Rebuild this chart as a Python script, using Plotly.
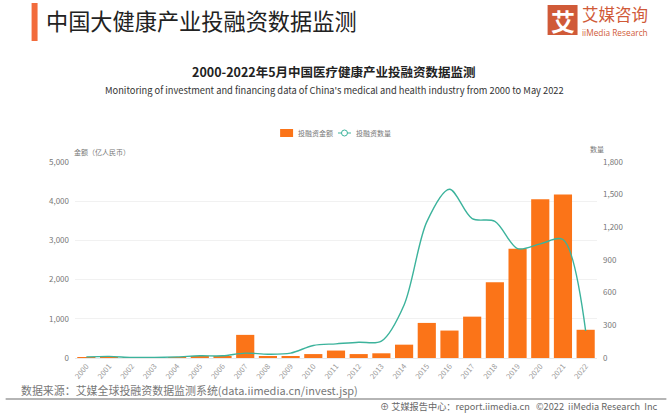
import plotly.graph_objects as go

years = [str(y) for y in range(2000, 2023)]
amount = [20, 15, 12, 8, 15, 40, 45, 590, 35, 30, 100, 190, 100, 120, 340, 895, 700, 1055, 1930, 2790, 4050, 4170, 720]
count = [10, 15, 5, 5, 10, 20, 20, 45, 35, 45, 115, 130, 145, 155, 487, 1250, 1550, 1280, 1255, 1005, 1048, 1088, 248]
left_ticks = [0, 1000, 2000, 3000, 4000, 5000]
right_ticks = [0, 300, 600, 900, 1200, 1500, 1800]

W, H = 667, 415
L, R, T, B = 74.5, 597.5, 162, 358
CJK = "Noto Sans CJK SC"
ORANGE = "#FB7418"
TEAL = "#3CB39C"
GRAY = "#777777"


def px(x):
    return (x - L) / (R - L)


def py(y):
    return (B - y) / (B - T)


def note(text, x, y, size, color="#333333", anchor="left", bold=False, family=CJK):
    return dict(text=f"<b>{text}</b>" if bold else text, x=px(x), y=py(y), xref="paper", yref="paper",
                xanchor=anchor, yanchor="middle", showarrow=False,
                font=dict(family=family, size=size, color=color))


def box(x0, y0, x1, y1, color, kind="rect", width=0):
    return dict(type=kind, xref="paper", yref="paper", x0=px(x0), x1=px(x1), y0=py(y0), y1=py(y1),
                fillcolor=color, line=dict(width=width, color=color), layer="below")


fig = go.Figure()
fig.add_bar(x=years, y=amount, name="投融资金额", marker=dict(color=ORANGE, line=dict(width=0)), yaxis="y")
fig.add_scatter(x=years, y=count, mode="lines", name="投融资数量", yaxis="y2",
                line=dict(color=TEAL, width=1.4, shape="spline", smoothing=0.9))

fig.update_layout(
    width=W, height=H, autosize=False,
    margin=dict(l=L, r=W - R, t=T, b=H - B, autoexpand=False),
    paper_bgcolor="white", plot_bgcolor="white",
    bargap=0.2,
    showlegend=False,
    xaxis=dict(type="category", tickangle=-50, tickfont=dict(family=CJK, size=7.5, color="#999999"),
               showgrid=False, showline=True, linecolor="#E8E8E8", ticks="", ticklen=0),
    yaxis=dict(range=[0, 5000], tickvals=left_ticks, tickformat=",", ticklabelstandoff=5,
               tickfont=dict(family=CJK, size=8, color=GRAY),
               gridcolor="#F1F1F1", gridwidth=1, zeroline=False, ticks="", showline=False),
    yaxis2=dict(range=[0, 1800], tickvals=right_ticks, tickformat=",", overlaying="y", side="right",
                ticklabelstandoff=5,
                tickfont=dict(family=CJK, size=8, color=GRAY), showgrid=False, zeroline=False,
                ticks="", showline=False),
    shapes=[
        box(31, 3, 37, 41, "#F26B3C"),
        box(549, 6, 577, 34, "#D05A38", width=2),
        box(5, 398, W, 400, "#B5B5B5"),
        box(280, 129, 293, 137, ORANGE),
        dict(type="line", xref="paper", yref="paper", x0=px(338), x1=px(351), y0=py(133), y1=py(133),
             line=dict(color=TEAL, width=1)),
        dict(type="circle", xref="paper", yref="paper", x0=px(341.5), x1=px(347.5), y0=py(130), y1=py(136),
             fillcolor="white", line=dict(color=TEAL, width=1)),
    ],
    annotations=[
        note("中国大健康产业投融资数据监测", 43, 20, 22.2, "#222222"),
        note("艾", 563, 20, 24, "white", "center", True),
        note("艾媒咨询", 580, 14, 16.5, "#D05A38"),
        note("iiMedia Research", 580, 32, 8.3, "#D05A38", family="Open Sans"),
        note("2000-2022年5月中国医疗健康产业投融资数据监测", 334, 71, 12.5, "#222222", "center", True),
        note("Monitoring of investment and financing data of China's medical and health industry from 2000 to May 2022",
             334, 90, 9.3, "#333333", "center"),
        note("投融资金额", 296, 133, 7, GRAY),
        note("投融资数量", 354, 133, 7, GRAY),
        note("金额（亿人民币）", 71, 152, 7, GRAY),
        note("数量", 597, 149, 7, GRAY, "center"),
        note("数据来源：艾媒全球投融资数据监测系统(data.iimedia.cn/invest.jsp)", 18, 390, 10.95, "#777777"),
        note("⊕ 艾媒报告中心：report.iimedia.cn   ©2022  iiMedia Research  Inc", 378, 406, 9.2, "#666666"),
    ],
)

fig.write_html("out.html", config=dict(displayModeBar=False), post_script="document.body.style.margin='0';")
